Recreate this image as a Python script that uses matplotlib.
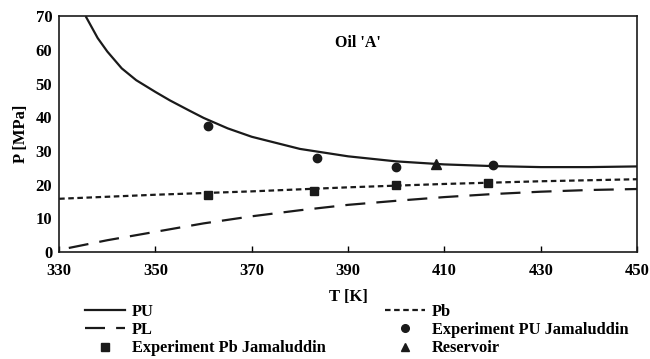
import matplotlib.pyplot as plt
from matplotlib.lines import Line2D

plt.rcParams['font.family'] = ['Liberation Serif', 'DejaVu Serif']
plt.rcParams['font.weight'] = 'bold'

# upper pressure envelope PU
pu_t = [335.5, 338, 340, 343, 346, 350, 353, 357, 360, 365, 370, 380, 390, 400, 410, 420, 430, 440, 450]
pu_p = [70.0, 63.5, 59.5, 54.5, 51.0, 47.5, 45.0, 42.0, 39.8, 36.7, 34.2, 30.6, 28.4, 26.9, 26.0, 25.5, 25.2, 25.2, 25.4]

# bubble point Pb
pb_t = [330, 340, 350, 360, 370, 380, 390, 400, 410, 420, 430, 440, 450]
pb_p = [15.8, 16.4, 17.0, 17.5, 18.0, 18.6, 19.2, 19.7, 20.2, 20.6, 21.0, 21.3, 21.6]

# lower pressure envelope PL
pl_t = [332, 340, 350, 360, 370, 380, 390, 400, 410, 420, 430, 440, 450]
pl_p = [1.2, 3.5, 6.0, 8.5, 10.6, 12.4, 14.0, 15.2, 16.3, 17.2, 17.9, 18.4, 18.7]

# Jamaluddin measurements
exp_pu_t = [361, 383.5, 400, 420]
exp_pu_p = [37.4, 27.9, 25.2, 25.9]
exp_pb_t = [361, 383, 400, 419]
exp_pb_p = [16.9, 18.1, 19.9, 20.6]

res_t = [408.2]
res_p = [26.1]

fig = plt.figure(figsize=(6.5, 3.59), dpi=100)
ax = fig.add_axes([0.091, 0.298, 0.889, 0.657])

ax.plot(pu_t, pu_p, color='#1a1a1a', lw=1.6, solid_capstyle='butt')
ax.plot(pb_t, pb_p, color='#1a1a1a', lw=1.6, dashes=(2.5, 1.6))
ax.plot(pl_t, pl_p, color='#1a1a1a', lw=1.6, dashes=(9, 5))
ax.plot(exp_pu_t, exp_pu_p, 'o', color='#1a1a1a', ms=6)
ax.plot(exp_pb_t, exp_pb_p, 's', color='#1a1a1a', ms=6)
ax.plot(res_t, res_p, '^', color='#1a1a1a', ms=6.5)

ax.set_xlim(330, 450)
ax.set_ylim(0, 70)
ax.set_xticks(range(330, 451, 20))
ax.set_yticks(range(0, 71, 10))
ax.tick_params(axis='x', direction='in', length=4, width=1, labelsize=12, pad=8)
ax.tick_params(axis='y', length=0, labelsize=12, pad=5)
for s in ax.spines.values():
    s.set_linewidth(1.2)
    s.set_color('#1a1a1a')

ax.set_xlabel('T [K]', fontsize=12, fontweight='bold', labelpad=7)
ax.set_ylabel('P [MPa]', fontsize=12, fontweight='bold', labelpad=5)
ax.text(392, 62, "Oil 'A'", fontsize=11.5, fontweight='bold', ha='center', va='center')

handles = [
    Line2D([], [], color='#1a1a1a', lw=1.6),
    Line2D([], [], color='#1a1a1a', lw=1.6, dashes=(9, 5)),
    Line2D([], [], color='#1a1a1a', marker='s', ls='none', ms=6),
    Line2D([], [], color='#1a1a1a', lw=1.6, dashes=(2.5, 1.6)),
    Line2D([], [], color='#1a1a1a', marker='o', ls='none', ms=5.5),
    Line2D([], [], color='#1a1a1a', marker='^', ls='none', ms=6),
]
labels = ['PU', 'PL', 'Experiment Pb Jamaluddin', 'Pb',
          'Experiment PU Jamaluddin', 'Reservoir']
fig.legend(handles, labels, ncol=2, loc='upper left', bbox_to_anchor=(0.131, 0.153),
           frameon=False, fontsize=11.8, handlelength=2.45, handletextpad=0.4,
           columnspacing=3.63, labelspacing=0.13, borderpad=0, borderaxespad=0)

fig.savefig('out.png', dpi=100)
